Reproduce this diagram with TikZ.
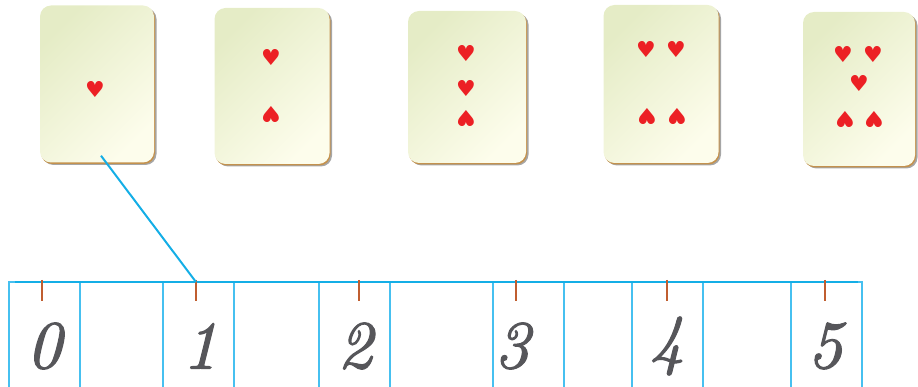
\documentclass[tikz,border=0pt]{standalone}
\usepackage{fontspec}
\usetikzlibrary{positioning,calc,shadows}
\newfontfamily\suitfont{DejaVu Sans}
\newfontfamily\digitfont{lmroman10-italic}[Extension=.otf,FakeBold=1.6]
\definecolor{CardGreen}{RGB}{229,236,198}
\definecolor{CardCream}{RGB}{253,253,236}
\definecolor{CardEdge}{RGB}{196,146,78}
\definecolor{LineBlue}{RGB}{20,174,230}
\definecolor{BoxBlue}{RGB}{70,192,240}
\definecolor{TickRust}{RGB}{192,94,48}
\definecolor{HeartRed}{RGB}{236,32,36}
\definecolor{DigitGray}{RGB}{86,86,90}
\tikzset{
  card/.style={rounded corners=11pt,minimum width=114pt,minimum height=156pt,inner sep=0pt,
    top color=CardGreen,bottom color=CardCream,shading angle=45,
    general shadow={fill=black!35,shadow xshift=2.5pt,shadow yshift=-2.5pt},
    general shadow={fill=CardEdge,shadow xshift=1pt,shadow yshift=-1.5pt}},
  heart/.style={text=HeartRed,font=\suitfont\fontsize{22}{22}\selectfont,inner sep=0pt},
  upheart/.style={heart,rotate=180},
  digit/.style={text=DigitGray,font=\digitfont\fontsize{68}{68}\selectfont,inner sep=0pt},
}

\begin{document}
\begin{tikzpicture}[x=1pt,y=-1pt]
  \useasboundingbox (0,0) rectangle (918,387);
  % cards
  \node[card,minimum height=157pt] (c1) at (97,84) {};
  \node[card,minimum width=115pt] (c2) at (272,86) {};
  \node[card,minimum width=118pt,minimum height=152pt] (c3) at (467,87) {};
  \node[card,minimum width=115pt,minimum height=158pt] (c4) at (661,84) {};
  \node[card,minimum width=112pt,minimum height=154pt] (c5) at (859,89) {};
  % hearts
  \node[heart] (h11) at (95,89) {♥};
  \node[heart] (h21) at (271,57) {♥};
  \node[upheart] (h22) at (271,115) {♥};
  \node[heart] (h31) at (466,53) {♥};
  \node[heart] (h32) at (466,88) {♥};
  \node[upheart] (h33) at (466,119) {♥};
  \node[heart] (h41) at (646,49) {♥};
  \node[heart] (h42) at (676,49) {♥};
  \node[upheart] (h43) at (647,117) {♥};
  \node[upheart] (h44) at (677,117) {♥};
  \node[heart] (h51) at (843,54) {♥};
  \node[heart] (h52) at (873,54) {♥};
  \node[heart] (h53) at (859,83) {♥};
  \node[upheart] (h54) at (845,120) {♥};
  \node[upheart] (h55) at (874,120) {♥};
  % number line
  \foreach \bx in {9,163,319,493,632,791}
    \draw[BoxBlue,line width=1.3pt] (\bx,392) -- (\bx,282) -- (\bx+71,282) -- (\bx+71,392);
  \draw[LineBlue,line width=2.5pt] (15,282) -- (858,282);
  \foreach \i/\tx/\nx in {0/42/44,1/196/200,2/359/355,3/516/512,4/667/667,5/825/825} {
    \coordinate (t\i) at (\tx,282);
    \draw[TickRust,line width=2.4pt] (\tx,280) -- (\tx,301);
    \node[digit] (n\i) at (\nx,346) {\i};
  }
  \coordinate (a1) at ($(c1.south)+(4,-7)$);
  \draw[LineBlue,line width=2pt] (a1) -- (t1);
\end{tikzpicture}
\end{document}
